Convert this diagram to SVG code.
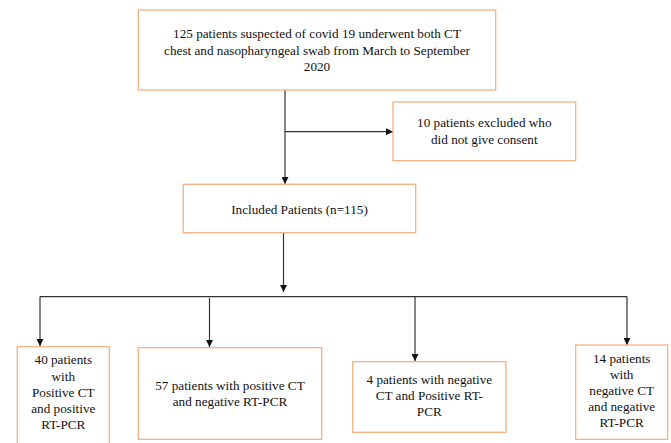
<svg xmlns="http://www.w3.org/2000/svg" width="671" height="443" viewBox="0 0 671 443">
<style>
.box{fill:#fff;stroke:#F4B183;stroke-width:1.3}
.t{font-family:"Liberation Serif","Times New Roman","DejaVu Serif",serif;font-size:13.2px;fill:#111;text-anchor:middle}
.c{fill:none;stroke:#333;stroke-width:1.2}
</style>
<defs>
<marker id="ah" viewBox="0 0 10 10" refX="10" refY="5" markerWidth="7" markerHeight="7" markerUnits="userSpaceOnUse" orient="auto">
<path d="M0,0 L10,5 L0,10 Z" fill="#111"/>
</marker>
</defs>
<rect width="671" height="443" fill="#fff"/>
<g id="connectors">
<line class="c" x1="285" y1="90" x2="285" y2="184" marker-end="url(#ah)"/>
<line class="c" x1="285" y1="131.7" x2="393" y2="131.7" marker-end="url(#ah)"/>
<line class="c" x1="283.5" y1="232.7" x2="283.5" y2="292" marker-end="url(#ah)"/>
<line class="c" x1="40" y1="296.6" x2="627" y2="296.6"/>
<line class="c" x1="40" y1="296.6" x2="40" y2="346" marker-end="url(#ah)"/>
<line class="c" x1="209.5" y1="298" x2="209.5" y2="347" marker-end="url(#ah)"/>
<line class="c" x1="415" y1="296" x2="415" y2="361" marker-end="url(#ah)"/>
<line class="c" x1="627" y1="296.6" x2="627" y2="345" marker-end="url(#ah)"/>
</g>
<g id="n-start">
<rect class="box" x="138.3" y="10" width="357.4" height="80"/>
<text class="t" x="317" y="38">125 patients suspected of covid 19 underwent both CT</text>
<text class="t" x="317" y="54.5">chest and nasopharyngeal swab from March to September</text>
<text class="t" x="317" y="70.7">2020</text>
</g>
<g id="n-excluded">
<rect class="box" x="393" y="102" width="182.7" height="58.7"/>
<text class="t" x="484.3" y="127.3">10 patients excluded who</text>
<text class="t" x="484.3" y="144">did not give consent</text>
</g>
<g id="n-included">
<rect class="box" x="183.3" y="184.3" width="232.4" height="48.4"/>
<text class="t" x="299.5" y="214.3">Included Patients (n=115)</text>
</g>
<g id="n-g1">
<rect class="box" x="17.3" y="346.7" width="92" height="110"/>
<text class="t" x="63.3" y="364.3">40 patients</text>
<text class="t" x="63.3" y="380.5">with</text>
<text class="t" x="63.3" y="396.7">Positive CT</text>
<text class="t" x="63.3" y="412.9">and positive</text>
<text class="t" x="63.3" y="429">RT-PCR</text>
</g>
<g id="n-g2">
<rect class="box" x="138.3" y="347.7" width="183.4" height="91.6"/>
<text class="t" x="230" y="390">57 patients with positive CT</text>
<text class="t" x="230" y="405.7">and negative RT-PCR</text>
</g>
<g id="n-g3">
<rect class="box" x="352.7" y="361.7" width="153.3" height="70.6"/>
<text class="t" x="429.3" y="384">4 patients with negative</text>
<text class="t" x="429.3" y="399.8">CT and Positive RT-</text>
<text class="t" x="429.3" y="416">PCR</text>
</g>
<g id="n-g4">
<rect class="box" x="575.7" y="345" width="92" height="94.3"/>
<text class="t" x="621.7" y="363.3">14 patients</text>
<text class="t" x="621.7" y="379.2">with</text>
<text class="t" x="621.7" y="395.1">negative CT</text>
<text class="t" x="621.7" y="411">and negative</text>
<text class="t" x="621.7" y="426.8">RT-PCR</text>
</g>
</svg>
